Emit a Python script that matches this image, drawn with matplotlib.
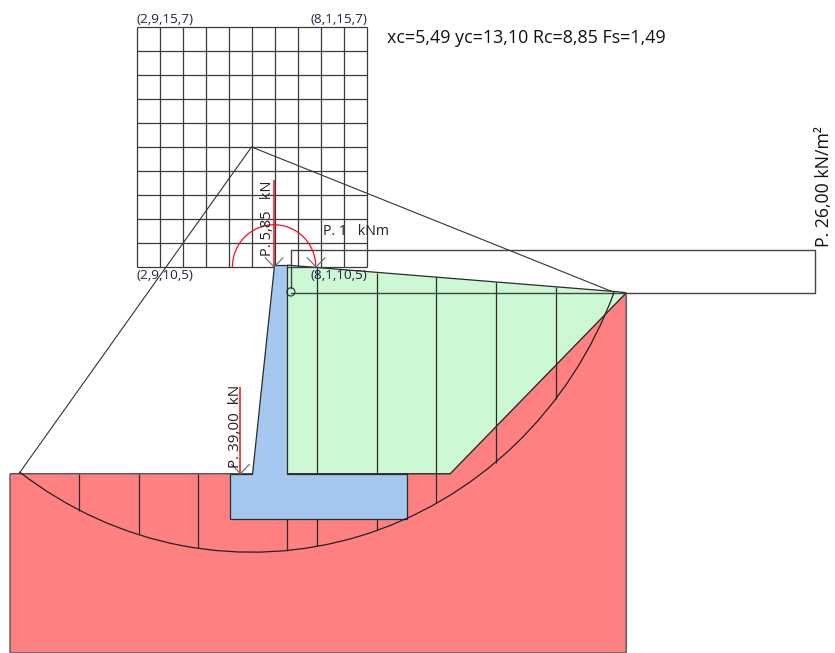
import numpy as np
import matplotlib
matplotlib.use('Agg')
import matplotlib.pyplot as plt
from matplotlib.patches import Arc, Circle, Polygon

plt.rcParams['font.family'] = ['Open Sans', 'DejaVu Sans']

# search grid for the slip circle centre
grid_x = [2.9, 8.1]
grid_y = [10.5, 15.7]
grid_n = 10

# slip circle result
xc = 5.49
yc = 13.10
rc_drawn = 8.78
arc_start = 233.3
arc_end = 339.0
circle_left = [0.23, 6.02]
circle_right = [13.66, 9.96]

# soil, backfill and wall outlines (metres)
soil_x = [0.03, 9.98, 13.96, 13.96, 0.03]
soil_y = [6.02, 6.02, 9.94, 2.135, 2.135]
fill_x = [6.3, 13.8, 13.96, 9.98, 6.3]
fill_y = [10.54, 9.96, 9.94, 6.02, 6.02]
wall_x = [6.0, 6.3, 6.3, 9.0, 9.0, 5.0, 5.0, 5.5]
wall_y = [10.54, 10.54, 6.02, 6.02, 5.03, 5.03, 6.02, 6.02]

# surcharge strip
strip_x = [6.38, 18.23, 18.23, 6.38, 6.38]
strip_y = [9.94, 9.94, 10.87, 10.87, 10.04]

# slices
slice_x = [1.59, 2.95, 4.28, 6.3, 6.97, 8.33, 9.66, 11.02, 12.37]
slice_top = [6.02, 6.02, 6.02, 6.02, 10.49, 10.38, 10.28, 10.17, 10.06]
slice_bot = [5.21, 4.71, 4.41, 4.35, 4.45, 4.79, 5.39, 6.26, 7.64]

# loads
load_x = [6.0, 5.24]
load_top = [12.38, 7.90]
load_bot = [10.5, 6.02]
arrow_x = [6.0, 6.95, 5.24]
arrow_y = [10.5, 10.5, 6.02]

# labels
corner_labels = ['(2,9,15,7)', '(8,1,15,7)', '(2,9,10,5)', '(8,1,10,5)']
result_label = 'xc=5,49 yc=13,10 Rc=8,85 Fs=1,49'

line_col = '#2b2b2b'
fig = plt.figure(figsize=(8.35, 6.53), dpi=100)
ax = fig.add_axes([0, 0, 1, 1])
ax.set_xlim(-0.197, 18.681)
ax.set_ylim(2.135, 16.285)
ax.axis('off')

# filled areas
ax.add_patch(Polygon(np.column_stack([soil_x, soil_y]), fc='#FF8080', ec='#555555', lw=1, zorder=1))
ax.add_patch(Polygon(np.column_stack([fill_x, fill_y]), fc='#CCF9D4', ec=line_col, lw=0.9, zorder=2))

# slices go under the wall
ax.vlines(slice_x, slice_bot, slice_top, color=line_col, lw=0.9, zorder=3)
ax.add_patch(Polygon(np.column_stack([wall_x, wall_y]), fc='#A4C8EF', ec=line_col, lw=0.9, zorder=4))

# search grid
gx = np.linspace(grid_x[0], grid_x[1], grid_n + 1)
gy = np.linspace(grid_y[0], grid_y[1], grid_n + 1)
ax.vlines(gx, grid_y[0], grid_y[1], color='#3a3a3a', lw=0.9, zorder=3)
ax.hlines(gy, grid_x[0], grid_x[1], color='#3a3a3a', lw=0.9, zorder=3)

# surcharge
ax.plot(strip_x, strip_y, color='#444444', lw=1, zorder=5)
ax.add_patch(Circle((6.38, 9.96), 0.09, fc='none', ec=line_col, lw=0.8, zorder=5))

# slip circle and its radii
ax.add_patch(Arc((xc, yc), 2 * rc_drawn, 2 * rc_drawn, theta1=arc_start, theta2=arc_end,
                 color='#222222', lw=0.9, zorder=6))
ax.plot([circle_left[0], xc, circle_right[0]], [circle_left[1], yc, circle_right[1]],
        color='#333333', lw=0.8, zorder=6)

# loads
ax.vlines(load_x, load_bot, load_top, color='#F01020', lw=1.1, zorder=7)
ax.add_patch(Arc((6.0, 10.5), 1.885, 1.83, theta1=0, theta2=180, color='#F01020', lw=0.9, zorder=7))
for x, y in zip(arrow_x, arrow_y):
    ax.plot([x - 0.2, x, x + 0.2], [y + 0.2, y, y + 0.2], color='#666666', lw=0.8, zorder=7)

# texts
fs = 9.7
ax.text(2.9, 15.72, corner_labels[0], fontsize=fs, color='#222244', ha='left', va='bottom', zorder=8)
ax.text(8.1, 15.72, corner_labels[1], fontsize=fs, color='#222244', ha='right', va='bottom', zorder=8)
ax.text(2.9, 10.46, corner_labels[2], fontsize=fs, color='#222244', ha='left', va='top', zorder=8)
ax.text(8.1, 10.46, corner_labels[3], fontsize=fs, color='#222244', ha='right', va='top', zorder=8)
ax.text(8.55, 15.46, result_label, fontsize=12.9, color='#111111', ha='left', va='center', zorder=8)
ax.text(7.1, 11.26, 'P. 1   kNm', fontsize=10.2, color='#222222', ha='left', va='center', zorder=8)
ax.text(5.84, 10.73, 'P. 5,85   kN', fontsize=10.5, rotation=90, color='#222222', ha='center', va='bottom', zorder=8)
ax.text(5.13, 6.15, 'P. 39,00  kN', fontsize=11, rotation=90, color='#222222', ha='center', va='bottom', zorder=8)
ax.text(18.44, 10.93, 'P. 26,00 kN/m²', fontsize=12.7, rotation=90, color='#111111', ha='center', va='bottom', zorder=8)

fig.savefig('out.png', dpi=100)
